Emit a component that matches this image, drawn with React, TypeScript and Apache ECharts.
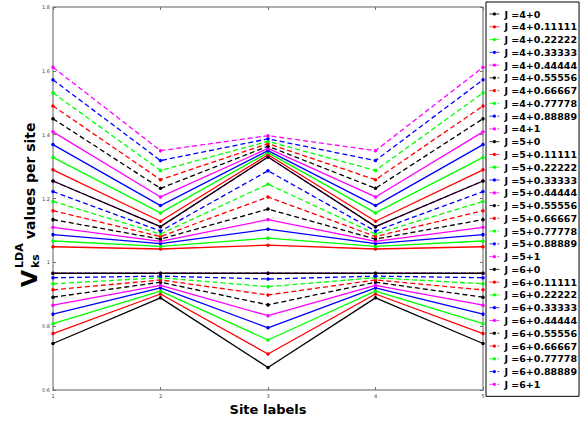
import React, { useEffect, useRef } from "react";
import * as echarts from "echarts";

// Site labels (x axis)
const siteLabels = [1, 2, 3, 4, 5];

// Legend / series names
const seriesNames = [
  "J =4+0", "J =4+0.11111", "J =4+0.22222", "J =4+0.33333", "J =4+0.44444",
  "J =4+0.55556", "J =4+0.66667", "J =4+0.77778", "J =4+0.88889", "J =4+1",
  "J =5+0", "J =5+0.11111", "J =5+0.22222", "J =5+0.33333", "J =5+0.44444",
  "J =5+0.55556", "J =5+0.66667", "J =5+0.77778", "J =5+0.88889", "J =5+1",
  "J =6+0", "J =6+0.11111", "J =6+0.22222", "J =6+0.33333", "J =6+0.44444",
  "J =6+0.55556", "J =6+0.66667", "J =6+0.77778", "J =6+0.88889", "J =6+1",
];

// Values per site (one entry per series, in the order of seriesNames)
const site1 = [
  0.746, 0.777, 0.808, 0.838, 0.866, 0.891, 0.914, 0.933, 0.952, 0.966,
  0.966, 1.049, 1.067, 1.087, 1.110, 1.134, 1.162, 1.191, 1.222, 1.255,
  1.255, 1.290, 1.329, 1.369, 1.409, 1.450, 1.490, 1.531, 1.572, 1.611,
];
const site2 = [
  0.889, 0.901, 0.910, 0.920, 0.928, 0.938, 0.945, 0.952, 0.957, 0.966,
  0.966, 1.042, 1.050, 1.059, 1.066, 1.073, 1.081, 1.089, 1.098, 1.112,
  1.112, 1.129, 1.155, 1.178, 1.205, 1.232, 1.259, 1.288, 1.319, 1.350,
];
const site3 = [
  0.671, 0.713, 0.757, 0.795, 0.833, 0.867, 0.898, 0.924, 0.948, 0.966,
  0.966, 1.054, 1.076, 1.104, 1.134, 1.167, 1.205, 1.245, 1.287, 1.330,
  1.330, 1.337, 1.344, 1.350, 1.357, 1.364, 1.372, 1.379, 1.387, 1.397,
];
const site4 = [
  0.889, 0.901, 0.910, 0.920, 0.928, 0.938, 0.945, 0.952, 0.957, 0.966,
  0.966, 1.042, 1.050, 1.059, 1.066, 1.073, 1.081, 1.089, 1.098, 1.112,
  1.112, 1.129, 1.155, 1.178, 1.205, 1.232, 1.259, 1.288, 1.319, 1.350,
];
const site5 = [
  0.746, 0.777, 0.808, 0.838, 0.866, 0.891, 0.914, 0.933, 0.952, 0.966,
  0.966, 1.049, 1.067, 1.087, 1.110, 1.134, 1.162, 1.191, 1.222, 1.255,
  1.255, 1.290, 1.329, 1.369, 1.409, 1.450, 1.490, 1.531, 1.572, 1.611,
];

const yTicks = { min: 0.6, max: 1.8, interval: 0.2 };
const colorCycle = ["#000000", "#ff0000", "#00ff00", "#0000ff", "#ff00ff"];
const FONT = '"DejaVu Sans", sans-serif';

export default function App() {
  const ref = useRef<HTMLDivElement>(null);

  useEffect(() => {
    if (!ref.current) return;
    const chart = echarts.init(ref.current, null, { renderer: "svg" });
    const sites = [site1, site2, site3, site4, site5];

    const series = seriesNames.map((name, i) => {
      const color = colorCycle[i % 5];
      const dashed = Math.floor(i / 5) % 2 === 1;
      return {
        name,
        type: "line",
        xAxisIndex: 0,
        yAxisIndex: 0,
        data: sites.map((s, k) => [siteLabels[k], s[i]]),
        symbol: "circle",
        symbolSize: 3.5,
        showSymbol: true,
        itemStyle: { color },
        lineStyle: { color, width: 1.3, type: dashed ? [5, 3] : "solid" },
        emphasis: { disabled: true },
        z: 2,
      };
    });

    const rotText = (text: string, x: number, y: number, size: number) => ({
      type: "text",
      x,
      y,
      rotation: Math.PI / 2,
      silent: true,
      style: {
        text,
        fill: "#000",
        fontSize: size,
        fontWeight: "bold",
        fontFamily: FONT,
        align: "left",
        verticalAlign: "middle",
        textAlign: "left",
        textVerticalAlign: "middle",
      },
    });

    chart.setOption({
      animation: false,
      backgroundColor: "#ffffff",
      grid: {
        left: 53,
        right: 97,
        top: 7,
        bottom: 24,
        show: true,
        borderColor: "#606060",
        borderWidth: 1,
        backgroundColor: "transparent",
      },
      xAxis: [
        {
          type: "value",
          min: 1,
          max: 5,
          interval: 1,
          position: "bottom",
          name: "Site labels",
          nameLocation: "middle",
          nameGap: 11,
          nameTextStyle: { fontSize: 13, fontWeight: "bold", fontFamily: FONT, color: "#000" },
          axisLine: { show: true, lineStyle: { color: "#b0b0b0", width: 2 } },
          axisTick: { show: true, inside: true, length: 3, lineStyle: { color: "#707070" } },
          axisLabel: { fontSize: 5, color: "#444", margin: 3, fontFamily: FONT },
          splitLine: { show: false },
        },
        {
          type: "value",
          min: 1,
          max: 5,
          interval: 1,
          position: "top",
          axisLine: { show: false },
          axisTick: { show: true, inside: true, length: 3, lineStyle: { color: "#707070" } },
          axisLabel: { show: false },
          splitLine: { show: false },
        },
      ],
      yAxis: [
        {
          type: "value",
          min: yTicks.min,
          max: yTicks.max,
          interval: yTicks.interval,
          position: "left",
          axisLine: { show: true, lineStyle: { color: "#b0b0b0", width: 2 } },
          axisTick: { show: true, inside: true, length: 3, lineStyle: { color: "#707070" } },
          axisLabel: { fontSize: 5, color: "#444", margin: 3, fontFamily: FONT },
          splitLine: { show: false },
        },
        {
          type: "value",
          min: yTicks.min,
          max: yTicks.max,
          interval: yTicks.interval,
          position: "right",
          axisLine: { show: false },
          axisTick: { show: true, inside: true, length: 3, lineStyle: { color: "#707070" } },
          axisLabel: { show: false },
          splitLine: { show: false },
        },
      ],
      legend: {
        orient: "vertical",
        left: 486,
        top: 2,
        padding: [7, 2, 7, 3],
        itemWidth: 10,
        itemHeight: 4,
        itemGap: 2.77,
        borderColor: "#000",
        borderWidth: 1,
        backgroundColor: "#fff",
        selectedMode: false,
        lineStyle: { width: 0.8 },
        textStyle: {
          fontSize: 9.5,
          fontWeight: "bold",
          fontFamily: FONT,
          color: "#000",
          lineHeight: 10,
        },
        data: seriesNames,
      },
      graphic: [
        rotText("V", 29, 287, 22),
        rotText("LDA", 19, 268, 11),
        rotText("ks", 35, 268, 11),
        rotText(" values per site", 30, 244, 14),
      ],
      series,
    });

    return () => chart.dispose();
  }, []);

  return (
    <div
      ref={ref}
      style={{ position: "fixed", left: 0, top: 0, width: 580, height: 421 }}
    />
  );
}
